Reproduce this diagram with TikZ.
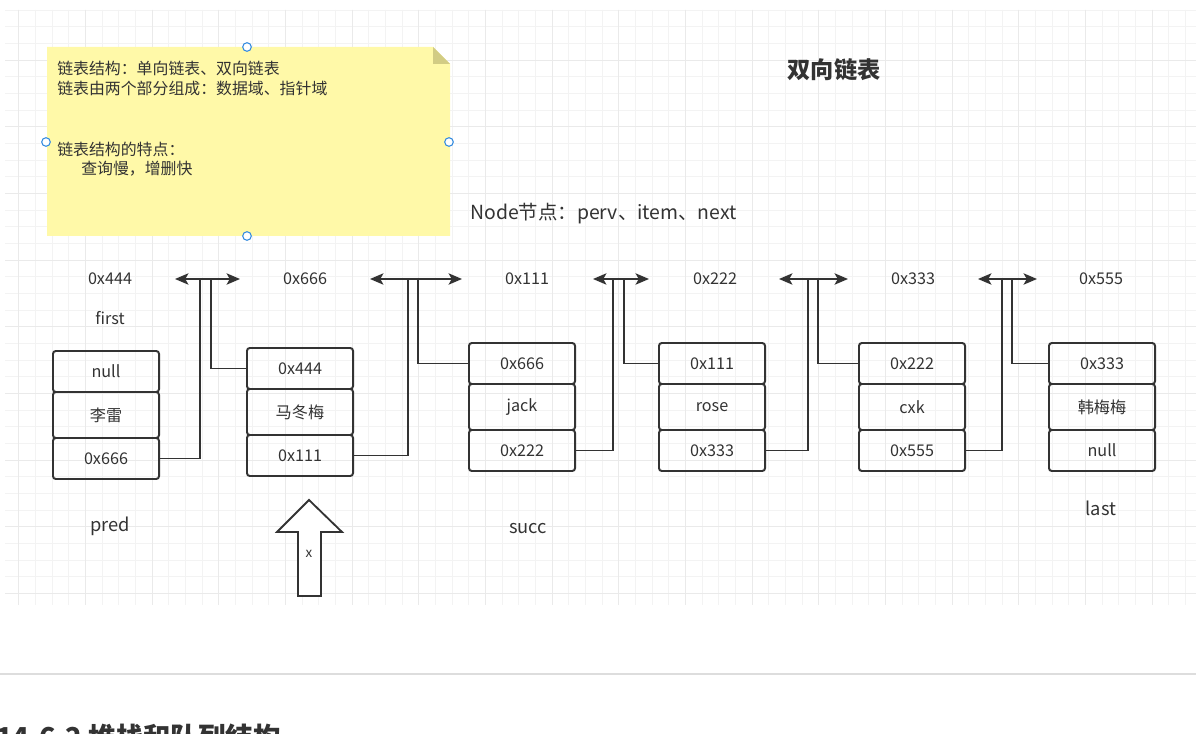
\documentclass[tikz,border=0pt]{standalone}
\usepackage{fontspec}
\setmainfont{Noto Sans CJK SC}
\usetikzlibrary{arrows.meta}
\definecolor{txt}{HTML}{333333}
\definecolor{ln}{HTML}{333333}
\definecolor{notey}{HTML}{FFF9A8}
\definecolor{foldc}{HTML}{D2CC84}
\definecolor{gridmin}{HTML}{F3F3F3}
\definecolor{gridmaj}{HTML}{EAEAEA}
\definecolor{handlec}{HTML}{3B8FE0}
\definecolor{sepc}{HTML}{DDDDDD}
\begin{document}
\begin{tikzpicture}[x=0.025cm,y=-0.025cm,
  cellbase/.style={draw=ln, line width=1.4pt, rounded corners=2pt, minimum width=2.65cm,
    inner sep=0pt, text=txt, font=\fontsize{11.5}{13}\selectfont},
  outercell/.style={cellbase, minimum height=1.025cm},
  midcell/.style={cellbase, minimum height=1.15cm},
  lbl/.style={text=txt, font=\fontsize{11.5}{13}\selectfont, inner sep=0pt},
  biglbl/.style={text=txt, font=\fontsize{13}{15}\selectfont, inner sep=0pt},
  notetxt/.style={text=txt, font=\fontsize{11.3}{13}\selectfont, inner sep=0pt, anchor=west},
  link/.style={draw=ln, line width=1.3pt, -{Stealth[length=9.5pt,width=8pt,inset=2.2pt]}},
  handle/.style={draw=handlec, fill=white, line width=0.8pt},
]
\useasboundingbox (0,0) rectangle (1196,734);
\fill[white] (0,0) rectangle (1196,734);
% grid
\begin{scope}
\clip (5,10) rectangle (1196,605);
\foreach \k in {1,...,71} {
  \pgfmathsetmacro\xx{2+16.6667*\k}
  \draw[gridmin, line width=0.6pt] (\xx,10) -- (\xx,605);
}
\foreach \j in {0,...,35} {
  \pgfmathsetmacro\yy{10+16.6667*\j}
  \draw[gridmin, line width=0.6pt] (5,\yy) -- (1196,\yy);
}
\foreach \k in {1,5,...,69} {
  \pgfmathsetmacro\xx{2+16.6667*\k}
  \draw[gridmaj, line width=0.6pt] (\xx,10) -- (\xx,605);
}
\foreach \j in {3,7,...,35} {
  \pgfmathsetmacro\yy{10+16.6667*\j}
  \draw[gridmaj, line width=0.6pt] (5,\yy) -- (1196,\yy);
}
\end{scope}

% separator and cut heading
\draw[sepc, line width=1pt] (0,674) -- (1196,674);
\begin{scope}
\clip (0,0) rectangle (1196,734);
\node[anchor=base west, inner sep=0pt, text=txt, font=\fontsize{19.5}{22}\bfseries] (heading) at (-4,747) {14.6.2 堆栈和队列结构};
\end{scope}

% sticky note
\fill[notey] (47,47) -- (433,47) -- (450,64) -- (450,236) -- (47,236) -- cycle;
\fill[foldc] (433,47) -- (433,64) -- (450,64) -- cycle;
\node[notetxt] (n1) at (57,68) {链表结构：单向链表、双向链表};
\node[notetxt] (n2) at (57,88) {链表由两个部分组成：数据域、指针域};
\node[notetxt] (n3) at (57,149) {链表结构的特点：};
\node[notetxt] (n4) at (81,169) {查询慢，增删快};
\draw[handle] (247,47) circle (4.3);
\draw[handle] (46,142) circle (4.3);
\draw[handle] (449,142) circle (4.3);
\draw[handle] (247,236) circle (4.3);

% titles
\node[text=txt, inner sep=0pt, font=\fontsize{16.5}{19}\bfseries] (title) at (834,70) {双向链表};
\node[text=txt, inner sep=0pt, anchor=west, font=\fontsize{13.8}{16}\selectfont] (nodetxt) at (470,214) {Node节点：perv、item、next};

% address labels
\node[lbl] (a1) at (110,279) {0x444};
\node[lbl] (a2) at (305,279) {0x666};
\node[lbl] (a3) at (527,279) {0x111};
\node[lbl] (a4) at (715,279) {0x222};
\node[lbl] (a5) at (913,279) {0x333};
\node[lbl] (a6) at (1101,279) {0x555};
\node[lbl] (first) at (110,318) {first};
\node[biglbl] (pred) at (110,526) {pred};
\node[biglbl] (succ) at (528,529) {succ};
\node[biglbl] (last) at (1101,508) {last};

% boxes
\node[outercell] (b1p) at (106,371.5) {null};
\node[midcell]   (b1i) at (106,415) {李雷};
\node[outercell] (b1n) at (106,458.5) {0x666};

\node[outercell] (b2p) at (300,368.5) {0x444};
\node[midcell]   (b2i) at (300,412) {马冬梅};
\node[outercell] (b2n) at (300,455.5) {0x111};

\node[outercell] (b3p) at (522,363.5) {0x666};
\node[midcell]   (b3i) at (522,407) {jack};
\node[outercell] (b3n) at (522,450.5) {0x222};

\node[outercell] (b4p) at (712,363.5) {0x111};
\node[midcell]   (b4i) at (712,407) {rose};
\node[outercell] (b4n) at (712,450.5) {0x333};

\node[outercell] (b5p) at (912,363.5) {0x222};
\node[midcell]   (b5i) at (912,407) {cxk};
\node[outercell] (b5n) at (912,450.5) {0x555};

\node[outercell] (b6p) at (1102,363.5) {0x333};
\node[midcell]   (b6i) at (1102,407) {韩梅梅};
\node[outercell] (b6n) at (1102,450.5) {null};

% connector coordinates
\coordinate (g1a) at (200,279); \coordinate (g1b) at (211,279);
\coordinate (g1l) at (175,279); \coordinate (g1r) at (240,279);
\coordinate (g2a) at (408,279); \coordinate (g2b) at (418,279);
\coordinate (g2l) at (370,279); \coordinate (g2r) at (462,279);
\coordinate (g3a) at (613,279); \coordinate (g3b) at (624,279);
\coordinate (g3l) at (593,279); \coordinate (g3r) at (649,279);
\coordinate (g4a) at (808,279); \coordinate (g4b) at (818,279);
\coordinate (g4l) at (779,279); \coordinate (g4r) at (848,279);
\coordinate (g5a) at (1002,279); \coordinate (g5b) at (1012,279);
\coordinate (g5l) at (978,279); \coordinate (g5r) at (1037,279);

\draw[link] (b1n.east) -| (g1a) -- (g1r);
\draw[link] (b2p.west) -| (g1b) -- (g1l);
\draw[link] (b2n.east) -| (g2a) -- (g2r);
\draw[link] (b3p.west) -| (g2b) -- (g2l);
\draw[link] (b3n.east) -| (g3a) -- (g3r);
\draw[link] (b4p.west) -| (g3b) -- (g3l);
\draw[link] (b4n.east) -| (g4a) -- (g4r);
\draw[link] (b5p.west) -| (g4b) -- (g4l);
\draw[link] (b5n.east) -| (g5a) -- (g5r);
\draw[link] (b6p.west) -| (g5b) -- (g5l);

% hollow up arrow
\draw[ln, line width=1.3pt, fill=white, line join=miter]
  (309,500) -- (342,532) -- (321,532) -- (321,596) -- (298,596) -- (298,532) -- (277,532) -- cycle;
\node[text=txt, inner sep=0pt, font=\fontsize{9.5}{11}\selectfont] (xlbl) at (309,554) {x};
\end{tikzpicture}
\end{document}
